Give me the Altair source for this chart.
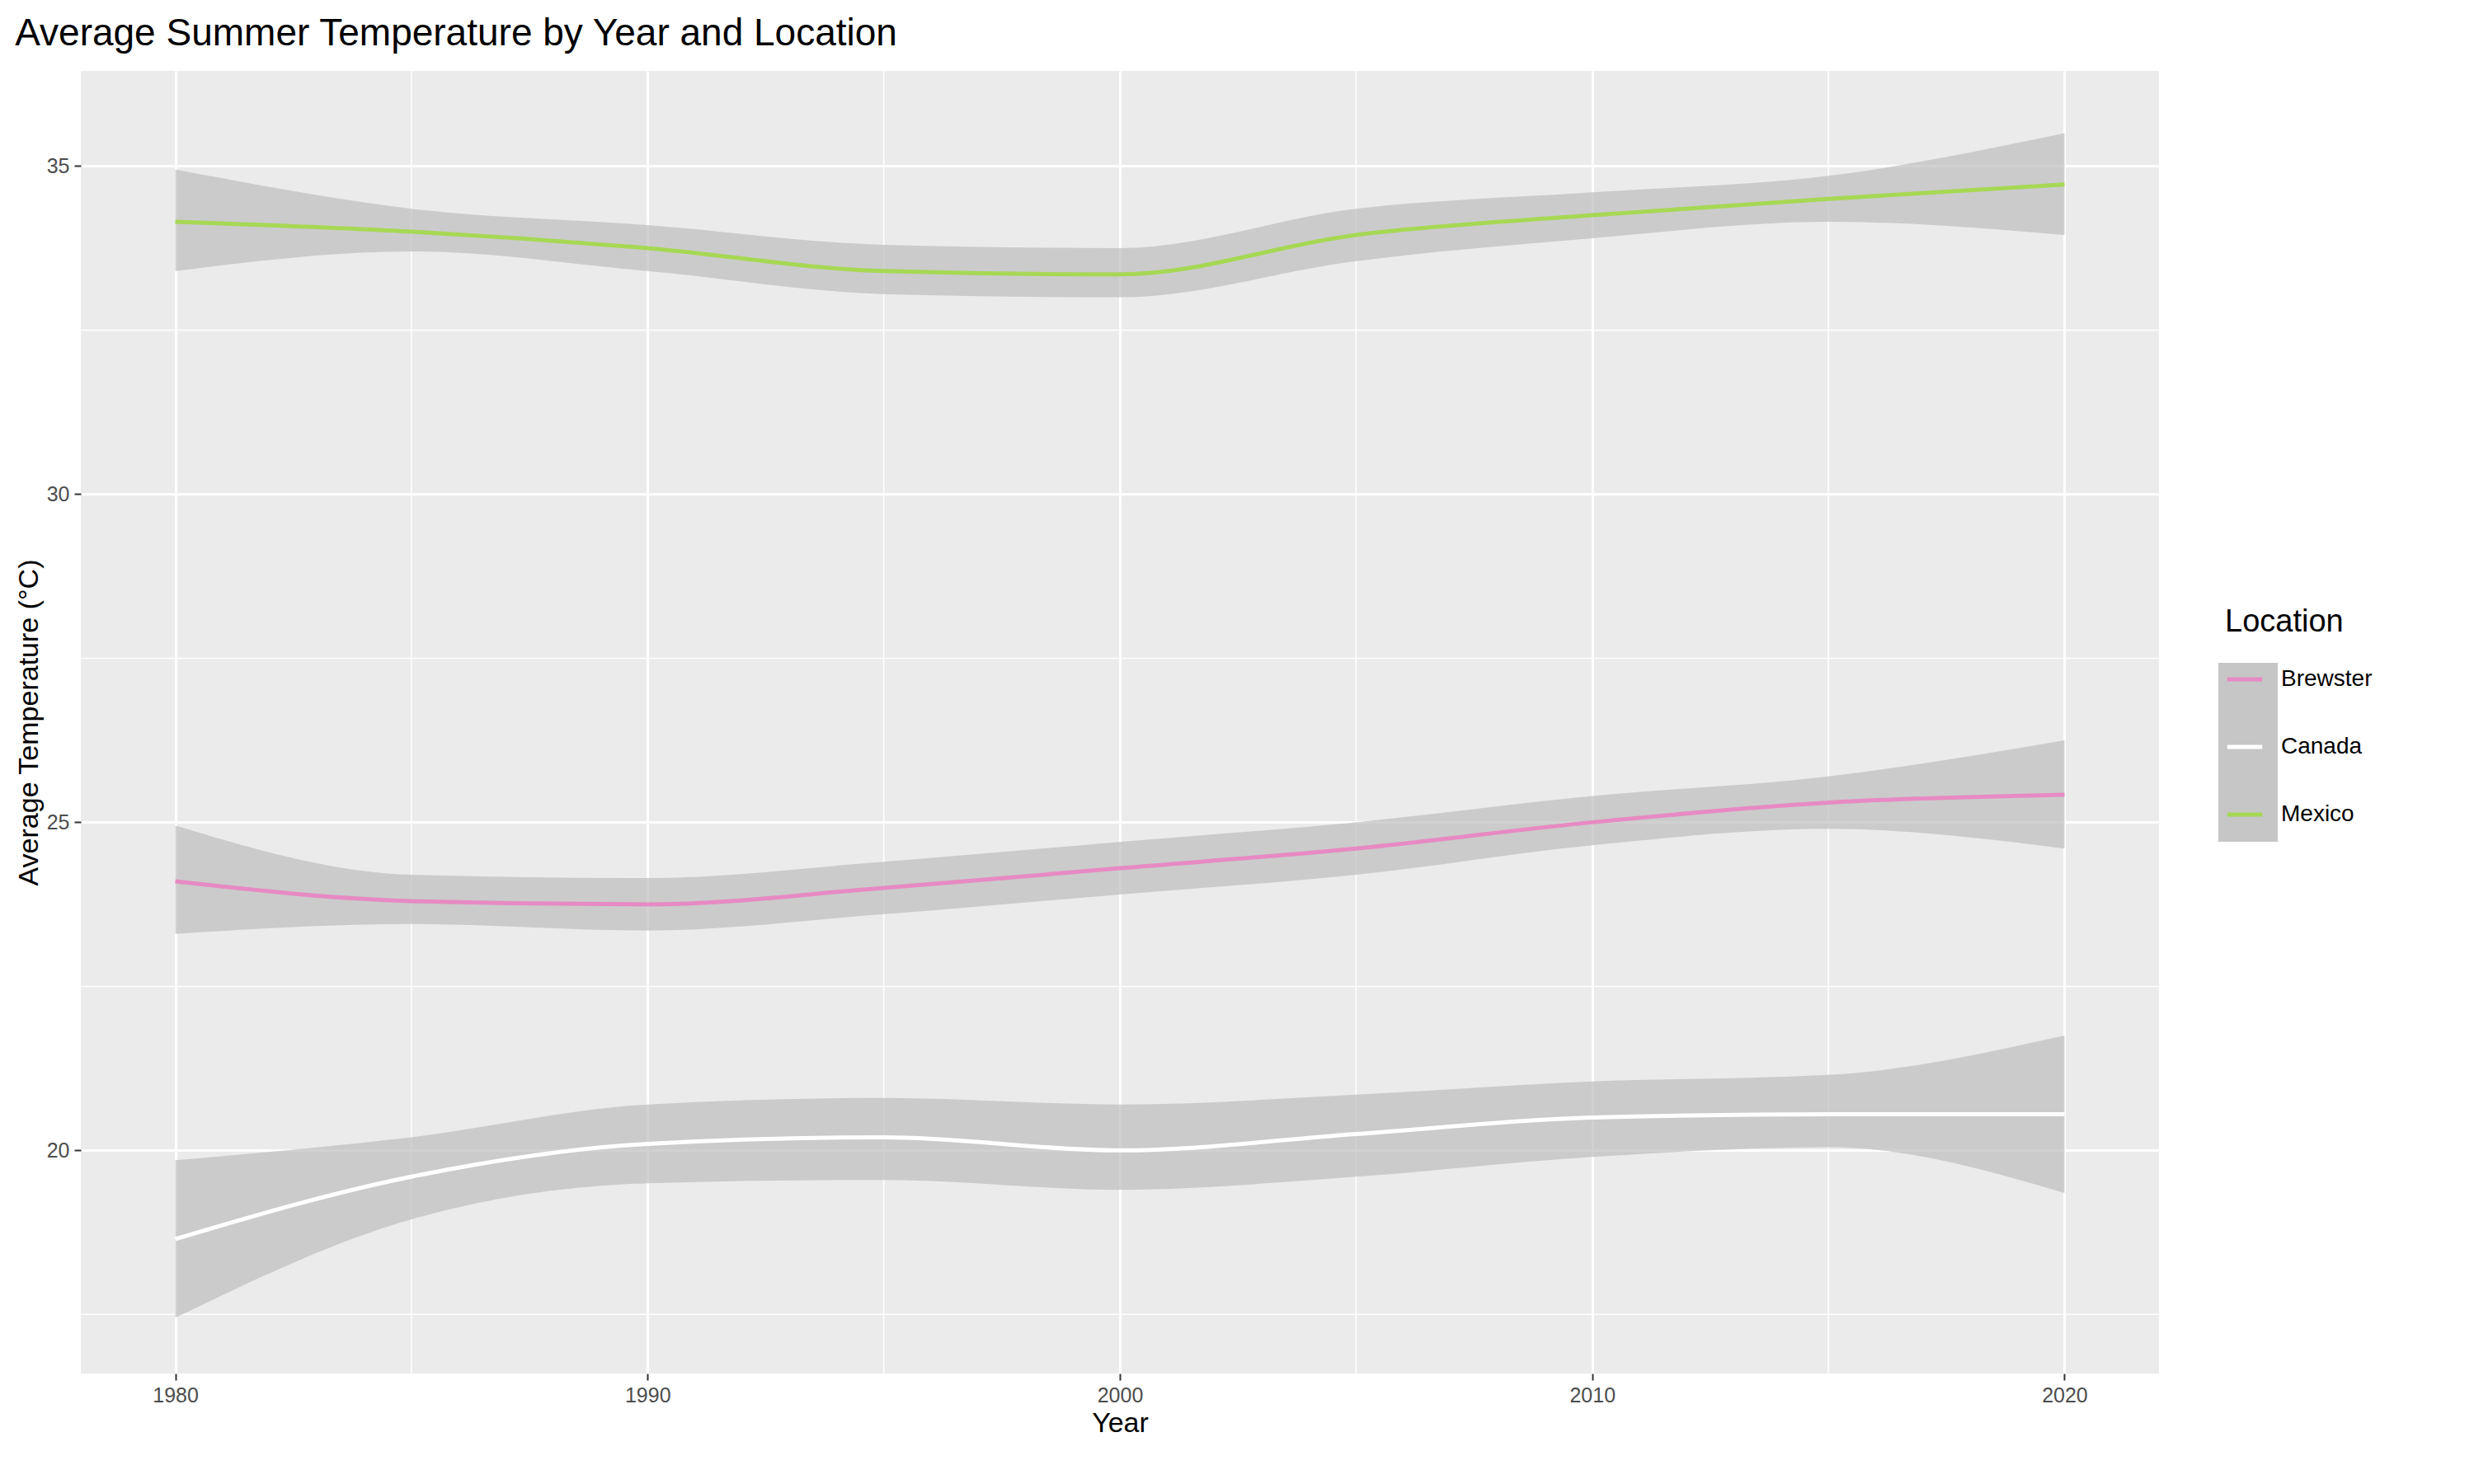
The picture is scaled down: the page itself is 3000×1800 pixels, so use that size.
import altair as alt
import pandas as pd

years = [1980, 1985, 1990, 1995, 2000, 2005, 2010, 2015, 2020]
mexico = [34.15, 34.0, 33.75, 33.4, 33.35, 33.95, 34.25, 34.5, 34.72]
mexico_lo = [33.4, 33.7, 33.4, 33.05, 33.0, 33.55, 33.9, 34.15, 33.95]
mexico_hi = [34.95, 34.35, 34.1, 33.8, 33.75, 34.35, 34.6, 34.85, 35.5]
brewster = [24.1, 23.8, 23.75, 24.0, 24.3, 24.6, 25.0, 25.3, 25.42]
brewster_lo = [23.3, 23.45, 23.35, 23.6, 23.9, 24.2, 24.65, 24.9, 24.6]
brewster_hi = [24.95, 24.2, 24.15, 24.4, 24.7, 25.0, 25.4, 25.7, 26.25]
canada = [18.65, 19.6, 20.1, 20.2, 20.0, 20.25, 20.5, 20.55, 20.55]
canada_lo = [17.45, 18.95, 19.5, 19.55, 19.4, 19.6, 19.9, 20.05, 19.35]
canada_hi = [19.85, 20.2, 20.7, 20.8, 20.7, 20.85, 21.05, 21.15, 21.75]

rows = []
for loc, m, lo, hi in [("Brewster", brewster, brewster_lo, brewster_hi),
                       ("Canada", canada, canada_lo, canada_hi),
                       ("Mexico", mexico, mexico_lo, mexico_hi)]:
    for y, a, b, c in zip(years, m, lo, hi):
        rows.append({"Year": y, "Location": loc, "temp": a, "lo": b, "hi": c})
df = pd.DataFrame(rows)

minor_x = pd.DataFrame({"v": [1985, 1995, 2005, 2015]})
minor_y = pd.DataFrame({"v": [17.5, 22.5, 27.5, 32.5]})

xs = alt.Scale(domain=[1978, 2022], nice=False, zero=False)
ys = alt.Scale(domain=[16.6, 36.45], nice=False, zero=False)
colors = alt.Scale(domain=["Brewster", "Canada", "Mexico"], range=["#E78AC3", "#FFFFFF", "#A6D854"])

gx = alt.Chart(minor_x).mark_rule(color="white", strokeWidth=1.5).encode(x=alt.X("v:Q", scale=xs))
gy = alt.Chart(minor_y).mark_rule(color="white", strokeWidth=1.5).encode(y=alt.Y("v:Q", scale=ys))

# grey key background behind legend symbols
keybg = alt.Chart(pd.DataFrame({"a": [0]})).mark_rect(color="#C6C6C6", clip=False).encode(
    x=alt.value(2592), x2=alt.value(2664), y=alt.value(718), y2=alt.value(935))

band = alt.Chart(df).mark_area(color="#BEBEBE", opacity=0.7, interpolate="monotone").encode(
    x=alt.X("Year:Q", scale=xs),
    y=alt.Y("lo:Q", scale=ys),
    y2="hi:Q",
    detail="Location:N",
)
line = alt.Chart(df).mark_line(strokeWidth=5, interpolate="monotone").encode(
    x=alt.X("Year:Q", scale=xs, title="Year",
            axis=alt.Axis(values=[1980, 1990, 2000, 2010, 2020], format="d")),
    y=alt.Y("temp:Q", scale=ys, title="Average Temperature (°C)",
            axis=alt.Axis(values=[20, 25, 30, 35], format="d")),
    color=alt.Color("Location:N", scale=colors,
                    legend=alt.Legend(symbolType="stroke", symbolStrokeWidth=5, symbolSize=1800,
                                      orient="none", legendX=2600, legendY=650)),
)

chart = alt.layer(gx, gy, keybg, band, line).properties(
    width=2520, height=1580, padding={"left": 10, "top": 10, "right": 10, "bottom": 10},
    title=alt.TitleParams("Average Summer Temperature by Year and Location", anchor="start",
                          fontSize=46, fontWeight="normal", font="Liberation Sans", color="black", offset=20),
).configure_view(fill="#EBEBEB", stroke=None).configure_axis(
    gridColor="white", gridWidth=3, domain=False, tickColor="#333333", tickSize=8, tickWidth=2,
    labelFontSize=25, labelColor="#4D4D4D", titleFontSize=34, titleFontWeight="normal",
    titleColor="black", labelFont="Liberation Sans", titleFont="Liberation Sans", labelPadding=6,
).configure_legend(
    titleFontSize=38, titleFontWeight="normal", labelFontSize=28, titleFont="Liberation Sans",
    labelFont="Liberation Sans", rowPadding=44, titleColor="black", titlePadding=26,
    labelColor="black", padding=0, labelOffset=20,
)
chart.save("out.html", embed_options={"renderer": "svg", "actions": False})
